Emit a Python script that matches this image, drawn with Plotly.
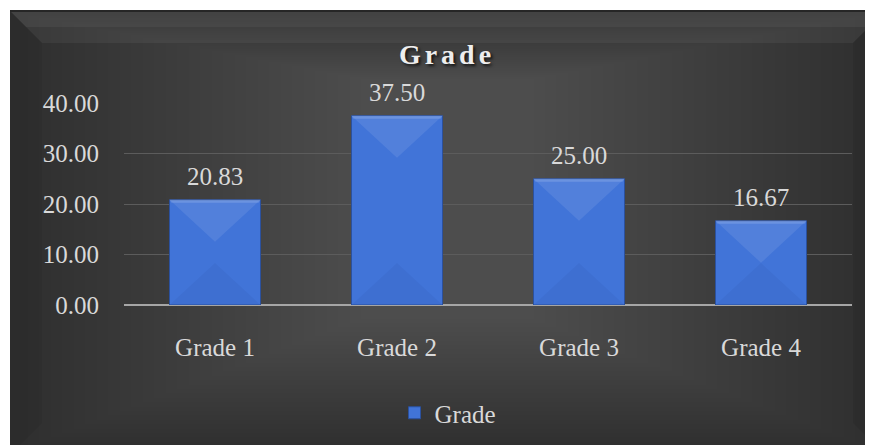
import plotly.graph_objects as go

categories = ["Grade 1", "Grade 2", "Grade 3", "Grade 4"]
values = [20.83, 37.50, 25.00, 16.67]
series_name = "Grade"
y_ticks = [0, 10, 20, 30, 40]

W, H = 873, 445
OFF = 8  # page body margin
# plot area in page coordinates
PL, PR, PT, PB = 124, 852, 103, 305
L, T = PL - OFF, PT - OFF
R, B = W - (PR - OFF), H - (PB - OFF)
PW, PH = PR - PL, PB - PT

def px(x, y):
    """page pixel -> paper coordinates"""
    return (x - PL) / PW, (PB - y) / PH

def path(points):
    s = ""
    for i, (x, y) in enumerate(points):
        xp, yp = px(x, y)
        s += ("M" if i == 0 else "L") + f"{xp:.5f},{yp:.5f} "
    return s + "Z"

font_family = "Liberation Serif, Times New Roman, serif"
txt = "#d9d9d9"
idx = list(range(len(categories)))
bar_w = 0.5

fig = go.Figure()
fig.add_trace(go.Bar(
    x=idx, y=values, name=series_name,
    marker=dict(color="#4174d8", line=dict(color="#2b519e", width=1)),
    width=bar_w, showlegend=True,
))

def P(kind_path, fill, **kw):
    d = dict(type="path", path=kind_path, fillcolor=fill, line=dict(width=0),
             layer="below", xref="paper", yref="paper")
    d.update(kw)
    return d

# panel with soft radial shading and bevel
x0, y0, x1, y1, bw = 10, 11, 885, 455, 32
shapes = [P(path([(x0, y0), (x1, y0), (x1, y1), (x0, y1)]), "#2f2f2f")]
n = 30
for k in range(1, n + 1):
    dx, dy = 6 + 11.5 * k, 4 + 4.4 * k
    shapes.append(P(path([(x0 + dx, y0 + dy * 0.5), (x1 - dx, y0 + dy * 0.5),
                          (x1 - dx, y1 - dy), (x0 + dx, y1 - dy)]),
                    "rgba(255,255,255,0.0065)"))
shapes.append(P(path([(x0, y0), (x1, y0), (x1 - bw, y0 + bw), (x0 + bw, y0 + bw)]),
                "rgba(255,255,255,0.05)"))
shapes.append(P(path([(x0, y0), (x1, y0), (x1 - 16, y0 + 16), (x0 + 16, y0 + 16)]),
                "rgba(255,255,255,0.05)"))
shapes.append(P(path([(x0, y0), (x0 + bw, y0 + bw), (x0 + bw, y1 - bw), (x0, y1)]),
                "rgba(0,0,0,0.06)"))
shapes.append(P(path([(x1, y0), (x1 - bw, y0 + bw), (x1 - bw, y1 - bw), (x1, y1)]),
                "rgba(0,0,0,0.08)"))
shapes.append(dict(type="line", x0=px(x0, y0)[0], x1=px(x1, y0)[0],
                   y0=px(x0, y0)[1], y1=px(x1, y0)[1],
                   line=dict(color="#262626", width=2), layer="below",
                   xref="paper", yref="paper"))

# bevel on each bar (data coords for x, pixel offsets for y)
depth = 42
for i, v in zip(idx, values):
    xl, xr = i - bar_w / 2, i + bar_w / 2
    shapes.append(dict(type="path", xref="x", yref="y", ysizemode="pixel", yanchor=v,
                       path=f"M{xl},0 L{xr},0 L{i},{-depth} Z",
                       fillcolor="rgba(255,255,255,0.09)", line=dict(width=0), layer="above"))
    shapes.append(dict(type="path", xref="x", yref="y", ysizemode="pixel", yanchor=v,
                       path=f"M{xl},0 L{xr},0 L{xr - 0.01},-3 L{xl + 0.01},-3 Z",
                       fillcolor="rgba(255,255,255,0.15)", line=dict(width=0), layer="above"))
    shapes.append(dict(type="path", xref="x", yref="y", ysizemode="pixel", yanchor=0,
                       path=f"M{xl},0 L{xr},0 L{i},{depth} Z",
                       fillcolor="rgba(0,0,60,0.04)", line=dict(width=0), layer="above"))

annotations = [
    dict(x=i, y=v, xref="x", yref="y", text=f"{v:.2f}", showarrow=False,
         yanchor="bottom", yshift=8,
         font=dict(family=font_family, size=25, color=txt))
    for i, v in zip(idx, values)
]

title_x, _ = px(447, 54)
leg_x, leg_y = px(448, 413)

fig.update_layout(
    width=W, height=H,
    margin=dict(l=L, r=R, t=T, b=B),
    paper_bgcolor="white", plot_bgcolor="rgba(0,0,0,0)",
    shapes=shapes, annotations=annotations,
    title=dict(text='<span style="letter-spacing:4px">Grade</span>',
               x=title_x, y=1 - (54 - OFF) / H, xref="paper", yref="container",
               xanchor="center", yanchor="middle",
               font=dict(family=font_family, size=28, color="#eeeeee", weight="bold",
                         shadow="2px 2px 3px rgba(0,0,0,0.7)")),
    xaxis=dict(range=[-0.5, len(categories) - 0.5], tickvals=idx, ticktext=categories,
               showgrid=False, showline=False, ticks="", zeroline=False,
               ticklabelstandoff=25,
               tickfont=dict(family=font_family, size=25, color=txt)),
    yaxis=dict(range=[0, 40], tickvals=y_ticks, tickformat=".2f",
               showgrid=True, gridcolor="#5c5c5c", gridwidth=1,
               zeroline=True, zerolinecolor="#a6a6a6", zerolinewidth=2,
               showline=False, ticks="", ticklabelstandoff=24,
               tickfont=dict(family=font_family, size=25, color=txt)),
    legend=dict(orientation="h", x=leg_x, y=leg_y, xanchor="center", yanchor="middle",
                bgcolor="rgba(0,0,0,0)",
                font=dict(family=font_family, size=25, color=txt)),
    showlegend=True,
)

fig.write_html("out.html")
